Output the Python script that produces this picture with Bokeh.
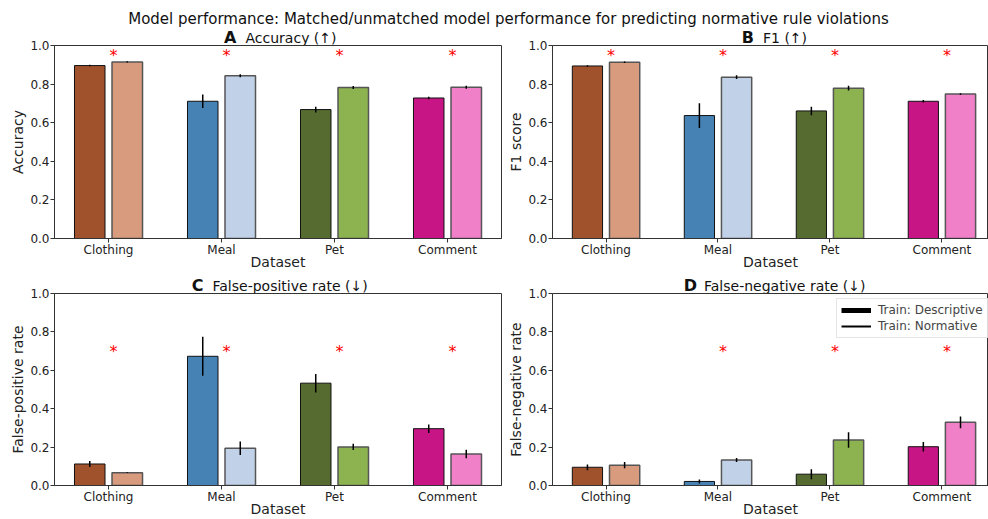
import numpy as np
from bokeh.plotting import figure
from bokeh.models import (ColumnDataSource, Range1d, FixedTicker, PrintfTickFormatter,
                          Label, Legend, LegendItem)
from bokeh.layouts import column, row
from bokeh.embed import file_html
from bokeh.resources import INLINE
from bokeh.core.properties import value

FONT = "DejaVu Sans"

# ---- data -------------------------------------------------------------
categories = ["Clothing", "Meal", "Pet", "Comment"]

acc_desc = [0.896, 0.711, 0.668, 0.728]
acc_desc_err = [0.004, 0.035, 0.015, 0.006]
acc_norm = [0.915, 0.843, 0.782, 0.784]
acc_norm_err = [0.003, 0.008, 0.008, 0.008]
acc_sig = [True, True, True, True]

f1_desc = [0.894, 0.637, 0.661, 0.711]
f1_desc_err = [0.004, 0.064, 0.022, 0.006]
f1_norm = [0.913, 0.836, 0.779, 0.749]
f1_norm_err = [0.004, 0.010, 0.012, 0.004]
f1_sig = [True, True, True, True]

fpr_desc = [0.112, 0.673, 0.533, 0.296]
fpr_desc_err = [0.016, 0.102, 0.048, 0.022]
fpr_norm = [0.067, 0.194, 0.201, 0.164]
fpr_norm_err = [0.002, 0.035, 0.016, 0.022]
fpr_sig = [True, True, True, True]

fnr_desc = [0.095, 0.021, 0.059, 0.202]
fnr_desc_err = [0.015, 0.010, 0.026, 0.025]
fnr_norm = [0.106, 0.133, 0.237, 0.329]
fnr_norm_err = [0.016, 0.010, 0.040, 0.031]
fnr_sig = [False, True, True, True]

desc_colors = ["#a0522d", "#4682b4", "#556b2f", "#c71585"]
norm_colors = ["#d89b7e", "#c1d2e8", "#8db350", "#f080c8"]

y_ticks = [0.0, 0.2, 0.4, 0.6, 0.8, 1.0]

SUPTITLE = ("Model performance: Matched/unmatched model performance "
            "for predicting normative rule violations")

OFFSET = 0.166
BAR_W = 0.27

# left column / right column geometry (right column runs to the page edge)
LEFT_COL = dict(width=505, left=54, right=4, x_end=3.478)
RIGHT_COL = dict(width=483, left=43, right=0, x_end=3.416)


def header(col, height, letter, title, letter_dx, text_dx, y):
    """Thin strip above a panel holding its bold letter and metric name."""
    h = figure(width=col["width"], height=height, output_backend="svg",
               toolbar_location=None, x_range=Range1d(-0.478, col["x_end"]),
               y_range=Range1d(0, height), x_axis_type=None, y_axis_type=None,
               min_border_left=col["left"], min_border_right=col["right"],
               min_border_top=0, min_border_bottom=0)
    h.outline_line_color = None
    h.grid.visible = False
    h.add_layout(Label(x=1.5, y=y, x_offset=letter_dx, text=letter,
                       text_font=FONT, text_font_size="16px",
                       text_font_style="bold", text_align="right",
                       text_baseline="middle", text_color="#111111"))
    h.add_layout(Label(x=1.5, y=y, x_offset=text_dx, text=title,
                       text_font=FONT, text_font_size="14px",
                       text_align="left", text_baseline="middle",
                       text_color="#111111"))
    return h


def make_panel(col, height, top, bottom, ylabel, desc, desc_err, norm,
               norm_err, sig, star_y, legend=False):
    p = figure(width=col["width"], height=height, output_backend="svg",
               toolbar_location=None, x_range=Range1d(-0.478, col["x_end"]),
               y_range=Range1d(0, 1), min_border_left=col["left"],
               min_border_right=col["right"], min_border_top=top,
               min_border_bottom=bottom)
    p.grid.visible = False
    p.outline_line_color = "#333333"
    p.outline_line_width = 1
    # transparent margins so the heading strip above stays visible
    p.border_fill_alpha = 0

    idx = np.arange(len(categories))
    d = np.array(desc)
    de = np.array(desc_err)
    n = np.array(norm)
    ne = np.array(norm_err)

    src_d = ColumnDataSource(dict(x=idx - OFFSET, top=d, color=desc_colors,
                                  lo=d - de, hi=d + de))
    src_n = ColumnDataSource(dict(x=idx + OFFSET, top=n, color=norm_colors,
                                  lo=n - ne, hi=n + ne))

    p.vbar(x="x", top="top", bottom=0, width=BAR_W, fill_color="color",
           line_color="#111111", line_width=1, source=src_d)
    p.vbar(x="x", top="top", bottom=0, width=BAR_W, fill_color="color",
           line_color="#555555", line_width=1.5, source=src_n)
    for s in (src_d, src_n):
        p.segment(x0="x", x1="x", y0="lo", y1="hi", line_color="black",
                  line_width=1.5, source=s)

    # significance markers
    sig_idx = idx[np.array(sig)]
    star_src = ColumnDataSource(dict(x=sig_idx + 0.045,
                                     y=[star_y] * len(sig_idx),
                                     t=["*"] * len(sig_idx)))
    p.text(x="x", y="y", text="t", source=star_src, text_color="red",
           text_font=value(FONT), text_font_size="16px",
           text_align="center", text_baseline="middle")

    # axes
    p.xaxis.ticker = FixedTicker(ticks=list(idx))
    p.xaxis.major_label_overrides = {int(i): c for i, c in zip(idx, categories)}
    p.yaxis.ticker = FixedTicker(ticks=y_ticks)
    p.yaxis.formatter = PrintfTickFormatter(format="%.1f")
    for ax in (p.xaxis[0], p.yaxis[0]):
        ax.axis_line_color = "#333333"
        ax.major_tick_line_color = "#333333"
        ax.major_tick_out = 4
        ax.major_tick_in = 0
        ax.minor_tick_line_color = None
        ax.major_label_text_font = FONT
        ax.major_label_text_font_size = "12px"
        ax.major_label_text_color = "#222222"
        ax.major_label_standoff = 1
        ax.axis_label_text_font = FONT
        ax.axis_label_text_font_size = "14px"
        ax.axis_label_text_font_style = "normal"
        ax.axis_label_text_color = "#222222"
        ax.axis_label_standoff = 1
    p.xaxis.axis_label = "Dataset"
    p.yaxis.axis_label = ylabel
    p.xaxis.major_label_standoff = 0
    p.xaxis.axis_label_standoff = -6

    if legend:
        nan2 = [np.nan, np.nan]
        r1 = p.line(x=nan2, y=nan2, line_color="black", line_width=5)
        r2 = p.line(x=nan2, y=nan2, line_color="black", line_width=2)
        leg = Legend(items=[LegendItem(label="Train: Descriptive", renderers=[r1]),
                            LegendItem(label="Train: Normative", renderers=[r2])],
                     location=(284, 147), glyph_width=30, glyph_height=14,
                     label_standoff=7, padding=4, spacing=2, margin=0,
                     label_text_font=FONT, label_text_font_size="12px",
                     border_line_color="#cccccc", border_line_width=1,
                     background_fill_alpha=0.9)
        p.add_layout(leg, "center")
    return p


title_fig = figure(width=988, height=28, output_backend="svg",
                   toolbar_location=None, x_range=Range1d(0, 988),
                   y_range=Range1d(0, 28), x_axis_type=None, y_axis_type=None,
                   min_border=0)
title_fig.outline_line_color = None
title_fig.grid.visible = False
title_fig.add_layout(Label(x=508, y=10, text=SUPTITLE, text_font=FONT,
                           text_font_size="15px", text_align="center",
                           text_baseline="middle", text_color="#111111"))

ha = header(LEFT_COL, 20, "A", "Accuracy (↑)", -41.5, -32.5, 11)
hb = header(RIGHT_COL, 20, "B", "F1 (↑)", -18, -9, 11)
pa = make_panel(LEFT_COL, 240, 8, 39, "Accuracy", acc_desc, acc_desc_err,
                acc_norm, acc_norm_err, acc_sig, 0.95)
pb = make_panel(RIGHT_COL, 240, 8, 39, "F1 score", f1_desc, f1_desc_err,
                f1_norm, f1_norm_err, f1_sig, 0.95)
hc = header(LEFT_COL, 20, "C", "False-positive rate (↓)", -74.5, -65.5, 12)
hd = header(RIGHT_COL, 20, "D", "False-negative rate (↓)", -75, -68, 12)
pc = make_panel(LEFT_COL, 234, 8, 33, "False-positive rate", fpr_desc,
                fpr_desc_err, fpr_norm, fpr_norm_err, fpr_sig, 0.70)
pd = make_panel(RIGHT_COL, 234, 8, 33, "False-negative rate", fnr_desc,
                fnr_desc_err, fnr_norm, fnr_norm_err, fnr_sig, 0.70,
                legend=True)

# panel rows slide up under their heading strips
row1 = row(pa, pb, margin=(-11, 0, 0, 0))
row2 = row(pc, pd, margin=(-12, 0, 0, 0))
layout = column(title_fig, row(ha, hb), row1, row(hc, hd), row2)

with open("out.html", "w") as f:
    f.write(file_html(layout, INLINE))
